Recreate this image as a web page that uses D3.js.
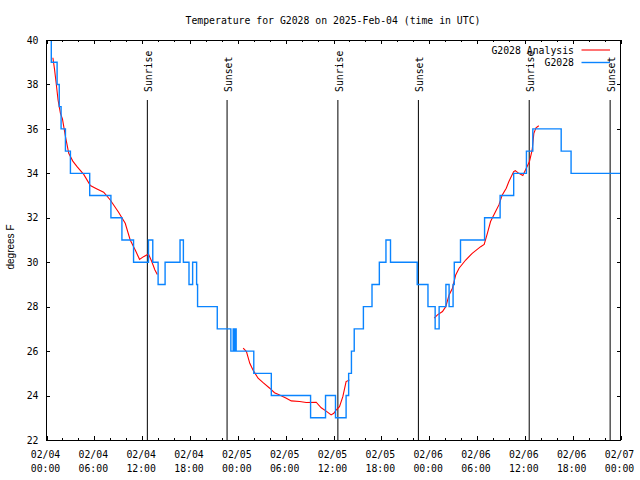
<!DOCTYPE html>
<html>
<head>
<meta charset="utf-8">
<script src="https://cdn.jsdelivr.net/npm/d3@7"></script>
<style>
  html, body { margin: 0; padding: 0; background: #fff; }
  svg { display: block; }
  text { font-family: "DejaVu Sans Mono", "Liberation Mono", monospace; font-size: 9.8px; fill: #000; }
</style>
</head>
<body>
<svg id="chart" width="640" height="480"></svg>
<script>
// ---------------- data ----------------
const titleText = "Temperature for G2028 on 2025-Feb-04 (time in UTC)";
const yLabelText = "degrees F";

// x axis: hours since 2025-02-04 00:00 UTC
const xMajorTickHours = [0, 6, 12, 18, 24, 30, 36, 42, 48, 54, 60, 66, 72];
const xMinorTickHours = [2, 4, 8, 10, 14, 16, 20, 22, 26, 28, 32, 34, 38, 40, 44, 46, 50, 52, 56, 58, 62, 64, 68, 70];
const xTickDayLabels = ["02/04", "02/04", "02/04", "02/04", "02/05", "02/05", "02/05", "02/05", "02/06", "02/06", "02/06", "02/06", "02/07"];
const xTickTimeLabels = ["00:00", "06:00", "12:00", "18:00", "00:00", "06:00", "12:00", "18:00", "00:00", "06:00", "12:00", "18:00", "00:00"];
const yTickValues = [22, 24, 26, 28, 30, 32, 34, 36, 38, 40];

// sunrise / sunset events (hours since 02/04 00:00 UTC)
const sunEventHours = [12.65, 22.65, 36.55, 46.65, 60.55, 70.7];
const sunEventLabels = ["Sunrise", "Sunset", "Sunrise", "Sunset", "Sunrise", "Sunset"];

// G2028 observations (step changes): hour, temperature
const obsHours = [0.4, 0.6, 1.33, 1.6, 1.83, 2.375, 3.0, 5.42, 8.08, 9.46, 10.92, 12.79, 13.33, 14.0, 14.875,
  16.75, 17.17, 17.875, 18.33, 18.83, 18.95, 21.42, 23.125, 23.42, 23.54, 23.67, 23.79, 26.0, 28.2,
  33.125, 35.0, 36.25, 37.58, 37.9, 38.25, 38.6, 39.75, 40.83, 41.75, 42.58, 43.15, 46.5, 47.85,
  48.75, 49.25, 50.1, 50.5, 51.0, 51.15, 51.93, 54.95, 56.9, 58.6, 60.2, 61.0, 64.56, 65.8, 72.5];
const obsTemps = [40, 39, 38, 37, 36, 35, 34, 33, 32, 31, 30, 31, 30, 29, 30,
  31, 30, 29, 30, 29, 28, 27, 26, 27, 26, 27, 26, 25, 24,
  23, 24, 23, 24, 25, 26, 27, 28, 29, 30, 31, 30, 29, 28,
  27, 28, 29, 28, 29, 30, 31, 32, 33, 34, 35, 36, 35, 34, 34];

// G2028 Analysis (null = no data)
const anaHours = [0.8, 1.0, 1.2, 1.45, 1.75, 2.0, 2.38, 2.79, 3.3, 3.83, 4.67, 5.5, 6.33, 7.17, 8.0, 9.04, 9.875,
  10.5, 11.13, 11.67, 12.17, 12.79, 13.2, 13.6, 13.9, 19.0,
  24.67, 25.08, 25.5, 25.9, 26.54, 27.17, 28.0, 28.6, 29.25, 30.08, 30.7, 31.75, 32.58, 33.83, 34.46,
  35.08, 35.7, 36.04, 36.33, 36.75, 37.17, 37.58, 38.0, 43.0,
  48.63, 49.04, 49.67, 50.08, 50.5, 50.92, 51.33, 51.75, 52.58, 53.4, 54.46, 54.9, 55.3, 55.7, 56.33,
  56.75, 57.17, 57.67, 58.0, 58.6, 58.8, 59.25, 59.75, 60.08, 60.58, 60.92, 61.13, 61.4, 61.75];
const anaTemps = [39.2, 38.7, 38.1, 37.3, 36.7, 36.45, 35.65, 34.9, 34.55, 34.3, 33.95, 33.45, 33.3, 33.15, 32.8, 32.25, 31.75,
  31.0, 30.55, 30.13, 30.25, 30.37, 30.03, 29.65, 29.45, null,
  26.13, 25.98, 25.45, 25.15, 24.78, 24.58, 24.33, 24.13, 24.03, 23.88, 23.76, 23.73, 23.69, 23.7, 23.45,
  23.3, 23.13, 23.2, 23.35, 23.5, 23.95, 24.63, 24.7, null,
  27.48, 27.63, 27.78, 28.0, 28.53, 28.83, 29.43, 29.73, 30.1, 30.4, 30.7, 30.8, 31.3, 31.83, 32.28,
  32.58, 33.03, 33.33, 33.63, 34.08, 34.12, 34.0, 33.9, 34.15, 34.53, 35.05, 35.8, 36.05, 36.14];

const seriesNames = ["G2028 Analysis", "G2028"];
const seriesColors = ["#ff0000", "#0a84ff"];

// ---------------- chart ----------------
const svg = d3.select("#chart");
const L = 46.5, R = 620.5, T = 40, B = 440;

const x = d3.scaleLinear().domain([0, 72]).range([L, R]);
const y = d3.scaleLinear().domain([22, 40]).range([B, T]);

svg.append("defs").append("clipPath").attr("id", "plotclip")
  .append("rect").attr("x", L).attr("y", T).attr("width", R - L).attr("height", B - T);

// title
svg.append("text").attr("x", 333).attr("y", 24).attr("text-anchor", "middle").text(titleText);

// y label
svg.append("text")
  .attr("transform", "translate(14,247) rotate(-90)")
  .attr("text-anchor", "middle")
  .style("font-family", "'Liberation Sans', Arial, sans-serif")
  .style("font-size", "10px")
  .text(yLabelText);

// axes (ticks inward, gnuplot style)
function styleAxis(g) {
  g.select(".domain").remove();
  g.selectAll(".tick line").attr("stroke", "#000").attr("stroke-width", 1).attr("shape-rendering", "crispEdges");
  g.selectAll("text").style("font-family", "'DejaVu Sans Mono', monospace").style("font-size", "9.8px").attr("fill", "#000");
}
svg.append("g").attr("transform", `translate(0,${B})`)
  .call(d3.axisBottom(x).tickValues(xMajorTickHours).tickSize(-4).tickFormat("")).call(styleAxis);
svg.append("g").attr("transform", `translate(0,${B})`)
  .call(d3.axisBottom(x).tickValues(xMinorTickHours).tickSize(-2).tickFormat("")).call(styleAxis);
svg.append("g").attr("transform", `translate(0,${T})`)
  .call(d3.axisTop(x).tickValues(xMajorTickHours).tickSize(-4).tickFormat("")).call(styleAxis);
svg.append("g").attr("transform", `translate(0,${T})`)
  .call(d3.axisTop(x).tickValues(xMinorTickHours).tickSize(-2).tickFormat("")).call(styleAxis);
svg.append("g").attr("transform", `translate(${L},0)`)
  .call(d3.axisLeft(y).tickValues(yTickValues).tickSize(-3.5).tickPadding(8).tickFormat(d3.format("d"))).call(styleAxis);
svg.append("g").attr("transform", `translate(${R},0)`)
  .call(d3.axisRight(y).tickValues(yTickValues).tickSize(-3.5).tickFormat("")).call(styleAxis);

// x tick labels (two lines)
const xl = svg.append("g");
xMajorTickHours.forEach((h, i) => {
  const t = xl.append("text").attr("text-anchor", "middle");
  t.append("tspan").attr("x", x(h) - 1).attr("y", 458).text(xTickDayLabels[i]);
  t.append("tspan").attr("x", x(h) - 1).attr("y", 472).text(xTickTimeLabels[i]);
});

// sunrise / sunset lines
const sun = svg.append("g");
sunEventHours.forEach((h, i) => {
  sun.append("line").attr("x1", x(h)).attr("x2", x(h)).attr("y1", 100).attr("y2", B)
    .attr("stroke", "#000").attr("stroke-width", 1);
  sun.append("text")
    .attr("transform", `translate(${x(h) + 5},92) rotate(-90)`)
    .attr("text-anchor", "start")
    .text(sunEventLabels[i]);
});

// data
const plot = svg.append("g").attr("clip-path", "url(#plotclip)");

const anaData = anaHours.map((h, i) => ({ h: h, v: anaTemps[i] }));
const obsData = obsHours.map((h, i) => ({ h: h, v: obsTemps[i] }));

plot.append("path").datum(anaData)
  .attr("fill", "none").attr("stroke", seriesColors[0]).attr("stroke-width", 1.1)
  .attr("d", d3.line().defined(d => d.v !== null).x(d => x(d.h)).y(d => y(d.v)));

plot.append("path").datum(obsData)
  .attr("fill", "none").attr("stroke", seriesColors[1]).attr("stroke-width", 1.4)
  .attr("d", d3.line().curve(d3.curveStepAfter).x(d => x(d.h)).y(d => y(d.v)));

// legend
const legY = [50, 62.5];
seriesNames.forEach((name, i) => {
  svg.append("text").attr("x", 574).attr("y", legY[i] + 3.5).attr("text-anchor", "end").text(name);
  svg.append("line").attr("x1", 581.5).attr("x2", 610).attr("y1", legY[i]).attr("y2", legY[i])
    .attr("stroke", seriesColors[i]).attr("stroke-width", i === 0 ? 1.1 : 1.4);
});

// border
svg.append("rect").attr("x", L).attr("y", T).attr("width", R - L).attr("height", B - T)
  .attr("fill", "none").attr("stroke", "#000").attr("stroke-width", 1).attr("shape-rendering", "crispEdges");
</script>
</body>
</html>
